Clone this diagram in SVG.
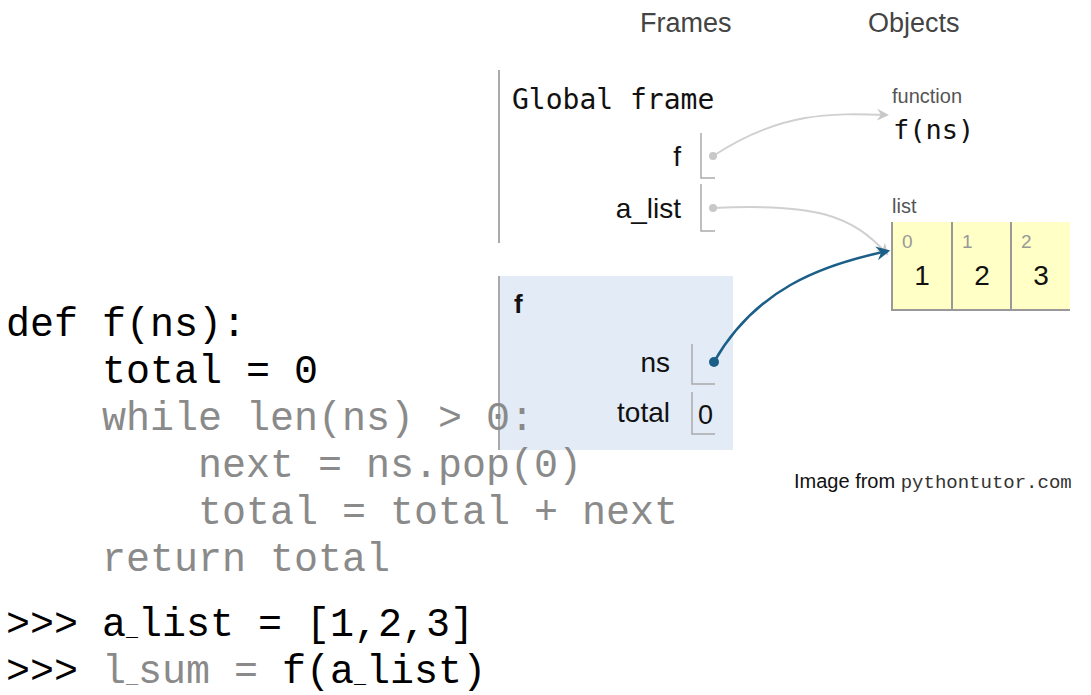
<svg xmlns="http://www.w3.org/2000/svg" width="1091" height="695" viewBox="0 0 1091 695">
<style>
.code{font-family:"Liberation Mono","Courier New",monospace;font-size:40px;fill:#000}
.gr{fill:#8a8a8a}
.us{font-size:20px}
.hdr{font-family:"Liberation Sans",Arial,sans-serif;font-size:27px;fill:#444}
.lbl{font-family:"Liberation Sans",Arial,sans-serif;font-size:28px;fill:#111;text-anchor:end}
.mono{font-family:"DejaVu Sans Mono",monospace;fill:#111}
.small{font-family:"Liberation Sans",Arial,sans-serif;font-size:20px;fill:#555}
.idx{font-family:"Liberation Sans",Arial,sans-serif;font-size:19px;fill:#999}
.val{font-family:"Liberation Sans",Arial,sans-serif;font-size:28px;fill:#111;text-anchor:middle}
.box{fill:none;stroke:#aaa;stroke-width:1.5}
</style>
<defs>
<marker id="ag" viewBox="0 0 12 12" refX="10" refY="6" markerWidth="12" markerHeight="12" markerUnits="userSpaceOnUse" orient="auto">
<path d="M0,0 L12,6 L0,12 L4,6 Z" fill="#c8c8c8"/>
</marker>
<marker id="ab" viewBox="0 0 12 12" refX="10" refY="6" markerWidth="14" markerHeight="14" markerUnits="userSpaceOnUse" orient="auto">
<path d="M0,0 L12,6 L0,12 L4,6 Z" fill="#1b5f88"/>
</marker>
</defs>
<rect width="1091" height="695" fill="#fff"/>

<g id="headers">
<text class="hdr" x="640" y="32">Frames</text>
<text class="hdr" x="868" y="32">Objects</text>
</g>

<g id="global-frame">
<line x1="499" y1="70" x2="499" y2="243" stroke="#aaa" stroke-width="2"/>
<text class="mono" x="512" y="109" font-size="28" font-weight="500">Global frame</text>
<text class="lbl" x="681" y="166">f</text>
<path class="box" d="M701,133 V178 H715"/>
<text class="lbl" x="681" y="218">a_list</text>
<path class="box" d="M701,184 V231 H715"/>
</g>

<g id="function-obj">
<text class="small" x="892" y="103">function</text>
<text class="mono" x="893" y="139" font-size="27">f(ns)</text>
</g>

<g id="list-obj">
<text class="small" x="892" y="213">list</text>
<rect x="892" y="222" width="178" height="88" fill="#ffffc6"/>
<path d="M892,222 V310 H1070 M952,222 V310 M1011,222 V310" fill="none" stroke="#999" stroke-width="2"/>
<text class="idx" x="902" y="248">0</text>
<text class="idx" x="962" y="248">1</text>
<text class="idx" x="1021" y="248">2</text>
<text class="val" x="922" y="285">1</text>
<text class="val" x="982" y="285">2</text>
<text class="val" x="1041" y="285">3</text>
</g>

<g id="f-frame">
<rect x="499" y="276" width="234" height="174" fill="#e2ebf6"/>
<line x1="499" y1="276" x2="499" y2="450" stroke="#aaa" stroke-width="2"/>
<text x="514" y="313" font-family="Liberation Sans,Arial,sans-serif" font-size="26" font-weight="bold" fill="#111">f</text>
<text class="lbl" x="670" y="372">ns</text>
<path class="box" d="M692,344 V384 H715"/>
<text class="lbl" x="670" y="422">total</text>
<path class="box" d="M692,392 V434 H715"/>
<text x="698" y="424" font-family="Liberation Sans,Arial,sans-serif" font-size="27" fill="#111">0</text>
</g>

<g id="connectors">
<path d="M713,156 C780,112 830,113 887,115" fill="none" stroke="#d0d0d0" stroke-width="2" marker-end="url(#ag)"/>
<path d="M713,208 C815,203 852,215 887,254" fill="none" stroke="#d0d0d0" stroke-width="2" marker-end="url(#ag)"/>
<path d="M714,362 C755,290 820,265 888,251" fill="none" stroke="#1b5f88" stroke-width="2.5" marker-end="url(#ab)"/>
<circle cx="713" cy="156" r="4" fill="#c8c8c8"/>
<circle cx="713" cy="208" r="4" fill="#c8c8c8"/>
<circle cx="714" cy="362" r="5" fill="#1b5f88"/>
</g>

<g id="code">
<text class="code" x="6" y="336" xml:space="preserve">def f(ns):</text>
<text class="code" x="6" y="383" xml:space="preserve">    total = 0</text>
<text class="code gr" x="6" y="430" xml:space="preserve">    while len(ns) &gt; 0:</text>
<text class="code gr" x="6" y="477" xml:space="preserve">        next = ns.pop(0)</text>
<text class="code gr" x="6" y="524" xml:space="preserve">        total = total + next</text>
<text class="code gr" x="6" y="571" xml:space="preserve">    return total</text>
<text class="code" x="6" y="636" xml:space="preserve">&gt;&gt;&gt; a<tspan class="us">_</tspan>list = [1,2,3]</text>
<text class="code" x="6" y="683" xml:space="preserve">&gt;&gt;&gt; <tspan class="gr">l<tspan class="us">_</tspan>sum =</tspan> f(a<tspan class="us">_</tspan>list)</text>
</g>

<g id="credit">
<text x="794" y="488" font-family="Liberation Sans,Arial,sans-serif" font-size="20" fill="#111">Image from <tspan font-family="Liberation Mono,monospace" font-size="19" fill="#333">pythontutor.com</tspan></text>
</g>
</svg>
